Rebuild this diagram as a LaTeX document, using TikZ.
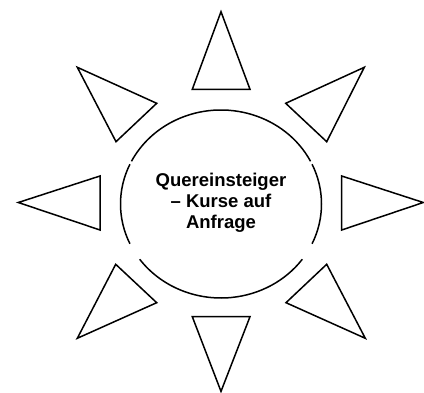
\documentclass[tikz,border=0pt]{standalone}
\usepackage{fontspec}
\setmainfont{Liberation Sans}
\begin{document}
\begin{tikzpicture}[x=1pt,y=1pt,
  ray/.style={draw=black,line width=1.5pt,line join=miter},
  rim/.style={draw=black,line width=1.5pt},
  label/.style={align=center,font=\fontsize{18.5}{21}\selectfont\bfseries,inner sep=0pt}]
\useasboundingbox (0,0) rectangle (424,392);
% rays
\draw[ray] (221,380.3) -- (192.3,302.7) -- (250,302.7) -- cycle;
\draw[ray] (192.3,75.3) -- (250,75.3) -- (221,0.6) -- cycle;
\draw[ray] (18.3,189.5) -- (100,216) -- (100,162) -- cycle;
\draw[ray] (423.3,189.5) -- (341.7,216) -- (341.7,162) -- cycle;
\draw[ray] (77.3,324.7) -- (156.7,288.7) -- (116,250.3) -- cycle;
\draw[ray] (364.3,324.7) -- (285.7,288.7) -- (326.7,250.3) -- cycle;
\draw[ray] (77.3,53.7) -- (115.7,127.7) -- (156.7,89.3) -- cycle;
\draw[ray] (365.3,53.7) -- (326.7,127.7) -- (286,89.3) -- cycle;
% disc with small breaks
\coordinate (c) at (221,188);
\draw[rim] ([shift={(27:100.5 and 94)}]c) arc[start angle=27,end angle=153,x radius=100.5,y radius=94];
\draw[rim] ([shift={(155:100.5 and 94)}]c) arc[start angle=155,end angle=205,x radius=100.5,y radius=94];
\draw[rim] ([shift={(216:100.5 and 94)}]c) arc[start angle=216,end angle=324,x radius=100.5,y radius=94];
\draw[rim] ([shift={(335:100.5 and 94)}]c) arc[start angle=335,end angle=385,x radius=100.5,y radius=94];
\node[label] (txt) at (221,189) {Quereinsteiger\\– Kurse auf\\Anfrage};
\end{tikzpicture}
\end{document}
